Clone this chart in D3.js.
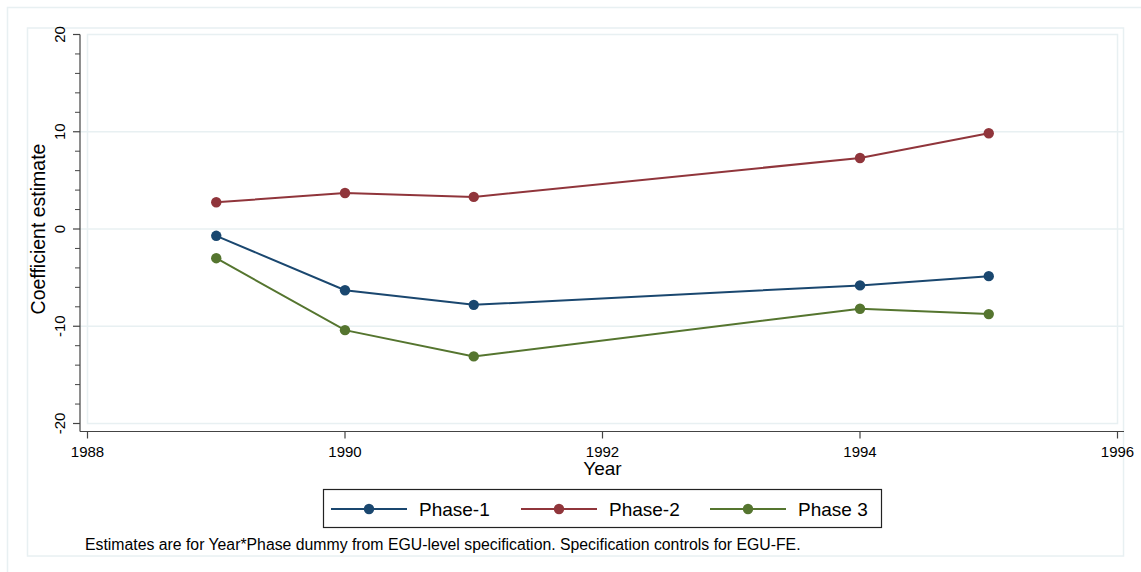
<!DOCTYPE html>
<html>
<head>
<meta charset="utf-8">
<script src="https://cdn.jsdelivr.net/npm/d3@7"></script>
<style>
  body { margin: 0; background: #fff; }
  svg text { font-family: "Liberation Sans", Arial, sans-serif; fill: #000; }
</style>
</head>
<body>
<div id="chart"></div>
<script>
// data
const years = [1989, 1990, 1991, 1994, 1995];
const phase1 = [-0.7, -6.3, -7.8, -5.8, -4.85];
const phase2 = [2.75, 3.7, 3.3, 7.3, 9.85];
const phase3 = [-3.0, -10.4, -13.1, -8.2, -8.75];
const seriesNames = ["Phase-1", "Phase-2", "Phase 3"];
const seriesColors = ["#1a476f", "#90353b", "#55752f"];
const xTicks = [1988, 1990, 1992, 1994, 1996];
const yTicks = [-20, -10, 0, 10, 20];
const yGrid = [-10, 0, 10];
const footnote = "Estimates are for Year*Phase dummy from EGU-level specification. Specification controls for EGU-FE.";

const width = 1141, height = 572;
const frameColor = "#e8f0f2";

const svg = d3.select("#chart").append("svg")
    .attr("width", width)
    .attr("height", height);

// outer frames
svg.append("rect")
    .attr("x", 7.5).attr("y", 7.5)
    .attr("width", 1140).attr("height", 570)
    .attr("fill", "none").attr("stroke", frameColor).attr("stroke-width", 1.5);
svg.append("rect")
    .attr("x", 27.5).attr("y", 28)
    .attr("width", 1096).attr("height", 528)
    .attr("fill", "none").attr("stroke", frameColor).attr("stroke-width", 1.5);

const x = d3.scaleLinear().domain([1988, 1996]).range([87.5, 1117.5]);
const y = d3.scaleLinear().domain([-20, 20]).range([423.5, 34.5]);

// plot region border
svg.append("rect")
    .attr("x", x(1988)).attr("y", y(20))
    .attr("width", x(1996) - x(1988)).attr("height", y(-20) - y(20))
    .attr("fill", "none").attr("stroke", frameColor).attr("stroke-width", 1.5);

// gridlines
svg.selectAll(".grid")
    .data(yGrid)
    .enter()
    .append("line")
    .attr("class", "grid")
    .attr("x1", 80).attr("x2", 1124)
    .attr("y1", d => y(d)).attr("y2", d => y(d))
    .attr("stroke", frameColor).attr("stroke-width", 1.5);

// y axis
const axisX = 80, axisY = 431.5;
svg.append("line")
    .attr("x1", axisX).attr("x2", axisX)
    .attr("y1", y(20)).attr("y2", axisY)
    .attr("stroke", "#444").attr("stroke-width", 1.2);

const minor = d3.range(-20, 21, 2).filter(d => d % 10 !== 0);
svg.selectAll(".ymin")
    .data(minor)
    .enter()
    .append("line")
    .attr("x1", axisX - 5).attr("x2", axisX)
    .attr("y1", d => y(d)).attr("y2", d => y(d))
    .attr("stroke", "#444").attr("stroke-width", 1);

svg.selectAll(".ymaj")
    .data(yTicks)
    .enter()
    .append("line")
    .attr("x1", axisX - 7).attr("x2", axisX)
    .attr("y1", d => y(d)).attr("y2", d => y(d))
    .attr("stroke", "#444").attr("stroke-width", 1.2);

svg.selectAll(".ylab")
    .data(yTicks)
    .enter()
    .append("text")
    .attr("transform", d => `translate(65,${y(d)}) rotate(-90)`)
    .attr("text-anchor", "middle")
    .style("font-size", "15px")
    .text(d => d);

svg.append("text")
    .attr("transform", `translate(45,${y(0)}) rotate(-90)`)
    .attr("text-anchor", "middle")
    .style("font-size", "19.5px")
    .text("Coefficient estimate");

// x axis
svg.append("line")
    .attr("x1", axisX).attr("x2", 1124)
    .attr("y1", axisY).attr("y2", axisY)
    .attr("stroke", "#444").attr("stroke-width", 1.2);

svg.selectAll(".xtick")
    .data(xTicks)
    .enter()
    .append("line")
    .attr("x1", d => x(d)).attr("x2", d => x(d))
    .attr("y1", axisY).attr("y2", axisY + 7)
    .attr("stroke", "#444").attr("stroke-width", 1.2);

svg.selectAll(".xlab")
    .data(xTicks)
    .enter()
    .append("text")
    .attr("x", d => x(d)).attr("y", 457)
    .attr("text-anchor", "middle")
    .style("font-size", "15px")
    .text(d => d);

svg.append("text")
    .attr("x", (x(1988) + x(1996)) / 2).attr("y", 475)
    .attr("text-anchor", "middle")
    .style("font-size", "19px")
    .text("Year");

// series
const series = [phase1, phase2, phase3].map((vals, i) => ({
    name: seriesNames[i],
    color: seriesColors[i],
    values: years.map((yr, j) => ({ year: yr, value: vals[j] }))
}));

const line = d3.line().x(d => x(d.year)).y(d => y(d.value));

const g = svg.selectAll(".series")
    .data(series)
    .enter()
    .append("g")
    .attr("class", "series");

g.append("path")
    .attr("d", d => line(d.values))
    .attr("fill", "none")
    .attr("stroke", d => d.color)
    .attr("stroke-width", 2);

g.selectAll("circle")
    .data(d => d.values.map(v => ({ ...v, color: d.color })))
    .enter()
    .append("circle")
    .attr("cx", d => x(d.year))
    .attr("cy", d => y(d.value))
    .attr("r", 5.2)
    .attr("fill", d => d.color);

// legend
const legend = svg.append("g");
legend.append("rect")
    .attr("x", 323.5).attr("y", 489.5)
    .attr("width", 558).attr("height", 38)
    .attr("fill", "#fff").attr("stroke", "#222").attr("stroke-width", 1.2);

const legendX = [331, 521, 710];
const item = legend.selectAll(".item")
    .data(series)
    .enter()
    .append("g")
    .attr("transform", (d, i) => `translate(${legendX[i]},509)`);

item.append("line")
    .attr("x1", 0).attr("x2", 76)
    .attr("stroke", d => d.color).attr("stroke-width", 2);
item.append("circle")
    .attr("cx", 38).attr("r", 5.2)
    .attr("fill", d => d.color);
item.append("text")
    .attr("x", 88).attr("y", 7)
    .style("font-size", "19px")
    .text(d => d.name);

svg.append("text")
    .attr("x", 85).attr("y", 550)
    .style("font-size", "15.8px")
    .text(footnote);
</script>
</body>
</html>
